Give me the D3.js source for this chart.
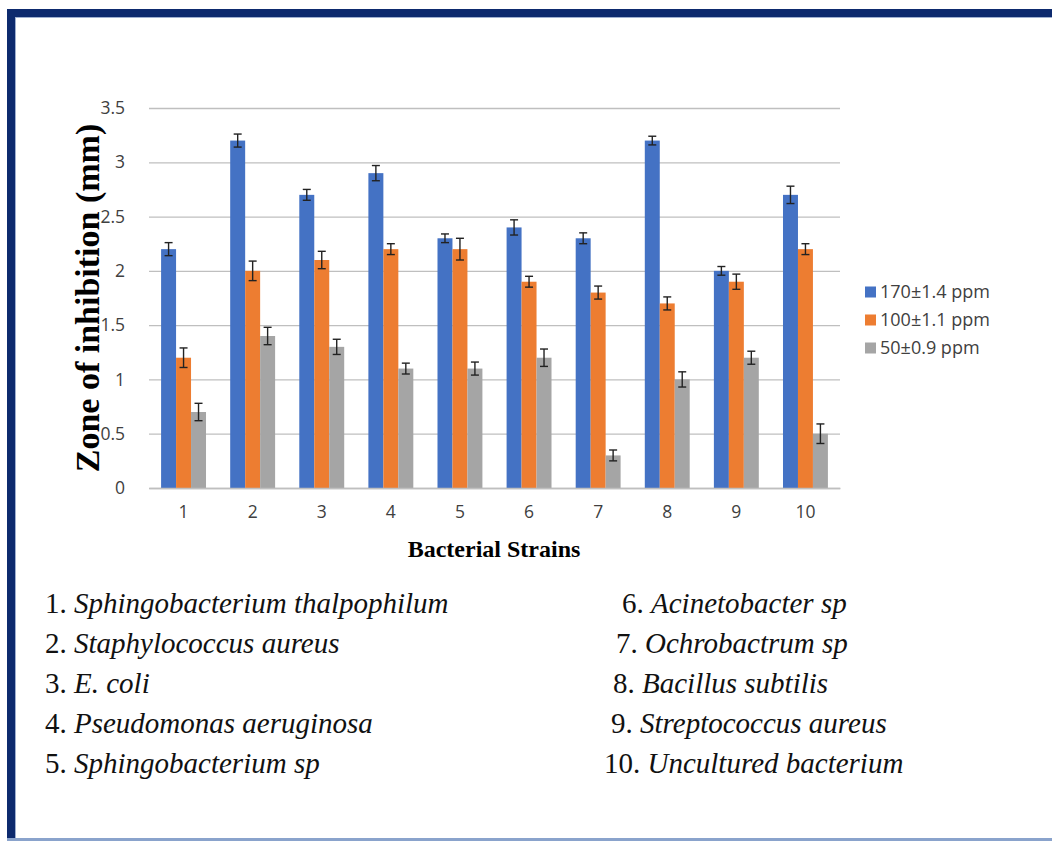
<!DOCTYPE html>
<html>
<head>
<meta charset="utf-8">
<script src="https://cdn.jsdelivr.net/npm/d3@7"></script>
<style>
  html, body { margin: 0; padding: 0; background: #fff; }
  svg { display: block; }
</style>
</head>
<body>
<script>
// ---------- data ----------
const categories = ["1","2","3","4","5","6","7","8","9","10"];
const seriesNames = ["170±1.4 ppm", "100±1.1 ppm", "50±0.9 ppm"];
const values170 = [2.2, 3.2, 2.7, 2.9, 2.3, 2.4, 2.3, 3.2, 2.0, 2.7];
const values100 = [1.2, 2.0, 2.1, 2.2, 2.2, 1.9, 1.8, 1.7, 1.9, 2.2];
const values50  = [0.7, 1.4, 1.3, 1.1, 1.1, 1.2, 0.3, 1.0, 1.2, 0.5];
const errors170 = [0.06, 0.06, 0.05, 0.07, 0.04, 0.07, 0.05, 0.04, 0.04, 0.08];
const errors100 = [0.09, 0.09, 0.08, 0.05, 0.10, 0.05, 0.06, 0.06, 0.07, 0.05];
const errors50  = [0.08, 0.08, 0.07, 0.05, 0.06, 0.08, 0.05, 0.07, 0.06, 0.09];
const yTicks = [0, 0.5, 1, 1.5, 2, 2.5, 3, 3.5];
const strainNames = [
  "Sphingobacterium thalpophilum", "Staphylococcus aureus", "E. coli",
  "Pseudomonas aeruginosa", "Sphingobacterium sp", "Acinetobacter sp",
  "Ochrobactrum sp", "Bacillus subtilis", "Streptococcus aureus",
  "Uncultured bacterium"
];
const yTitle = "Zone of inhibition (mm)";
const xTitle = "Bacterial Strains";

const seriesValues = [values170, values100, values50];
const seriesErrors = [errors170, errors100, errors50];
const colors = ["#4472C4", "#ED7D31", "#A5A5A5"];

// ---------- layout ----------
const W = 1052, H = 841;
const svg = d3.select("body").append("svg").attr("width", W).attr("height", H);

// frame
svg.append("rect").attr("x", 0).attr("y", 0).attr("width", W).attr("height", H).attr("fill", "#fff");
svg.append("rect").attr("x", 7).attr("y", 9).attr("width", W - 7).attr("height", 8).attr("fill", "#0d2a6e");
svg.append("rect").attr("x", 7).attr("y", 9).attr("width", 8).attr("height", H - 9).attr("fill", "#0d2a6e");
svg.append("rect").attr("x", 15).attr("y", 17).attr("width", W - 15).attr("height", 1).attr("fill", "#9fb0d0");
svg.append("rect").attr("x", 15).attr("y", 17).attr("width", 1).attr("height", H - 17).attr("fill", "#9fb0d0");
svg.append("rect").attr("x", 7).attr("y", 838).attr("width", W - 7).attr("height", 3).attr("fill", "#8aa3cc");

const plot = { left: 149, right: 840, top: 108, bottom: 488 };

const x0 = d3.scaleBand().domain(categories).range([plot.left, plot.right]).paddingInner(0.35).paddingOuter(0.175);
const x1 = d3.scaleBand().domain(d3.range(3)).range([0, x0.bandwidth()]);
const y = d3.scaleLinear().domain([0, 3.5]).range([plot.bottom, plot.top]);

// gridlines
const grid = svg.append("g")
  .attr("transform", `translate(${plot.left},0)`)
  .call(d3.axisLeft(y).tickValues(yTicks).tickSize(-(plot.right - plot.left)).tickFormat(""));
grid.select(".domain").remove();
grid.selectAll("line").attr("stroke", "#bfbfbf").attr("stroke-width", 1.3);

// y tick labels
const yAxis = svg.append("g")
  .attr("transform", `translate(${plot.left - 21},0)`)
  .call(d3.axisLeft(y).tickValues(yTicks).tickSize(0).tickFormat(d => d3.format("")(d)));
yAxis.select(".domain").remove();
yAxis.selectAll("text").attr("font-family", "'Open Sans', sans-serif").attr("font-size", 17.5).attr("fill", "#404040");

// bars
const groups = svg.append("g").selectAll("g").data(categories).join("g")
  .attr("transform", d => `translate(${x0(d)},0)`);

groups.selectAll("rect")
  .data((d, i) => seriesValues.map((s, k) => ({ k, v: s[i] })))
  .join("rect")
  .attr("x", d => x1(d.k))
  .attr("width", x1.bandwidth())
  .attr("y", d => y(d.v))
  .attr("height", d => y(0) - y(d.v))
  .attr("fill", d => colors[d.k]);

// error bars
const eb = groups.selectAll("g.err")
  .data((d, i) => seriesValues.map((s, k) => ({ k, v: s[i], e: seriesErrors[k][i] })))
  .join("g").attr("class", "err")
  .attr("stroke", "#222").attr("stroke-width", 1.4);
const capW = 4;
eb.append("line")
  .attr("x1", d => x1(d.k) + x1.bandwidth() / 2).attr("x2", d => x1(d.k) + x1.bandwidth() / 2)
  .attr("y1", d => y(d.v + d.e)).attr("y2", d => y(d.v - d.e));
eb.append("line")
  .attr("x1", d => x1(d.k) + x1.bandwidth() / 2 - capW).attr("x2", d => x1(d.k) + x1.bandwidth() / 2 + capW)
  .attr("y1", d => y(d.v + d.e)).attr("y2", d => y(d.v + d.e));
eb.append("line")
  .attr("x1", d => x1(d.k) + x1.bandwidth() / 2 - capW).attr("x2", d => x1(d.k) + x1.bandwidth() / 2 + capW)
  .attr("y1", d => y(d.v - d.e)).attr("y2", d => y(d.v - d.e));

// x axis
const xAxis = svg.append("g")
  .attr("transform", `translate(0,${plot.bottom})`)
  .call(d3.axisBottom(x0).tickSize(0).tickPadding(18));
xAxis.select(".domain").attr("stroke", "#bfbfbf").attr("stroke-width", 1.3);
xAxis.selectAll("text").attr("font-family", "'Open Sans', sans-serif").attr("font-size", 17.5).attr("fill", "#404040");

// axis titles
svg.append("text")
  .attr("x", 494).attr("y", 557)
  .attr("text-anchor", "middle")
  .attr("font-family", "'Liberation Serif', 'Times New Roman', serif")
  .attr("font-weight", "bold").attr("font-size", 24).attr("fill", "#000")
  .text(xTitle);
svg.append("text")
  .attr("transform", "translate(99,298) rotate(-90)")
  .attr("text-anchor", "middle")
  .attr("font-family", "'Liberation Serif', 'Times New Roman', serif")
  .attr("font-weight", "bold").attr("font-size", 34).attr("fill", "#000")
  .text(yTitle);

// legend
const legend = svg.append("g").attr("transform", "translate(865,292)");
const li = legend.selectAll("g").data(seriesNames).join("g")
  .attr("transform", (d, i) => `translate(0,${i * 28})`);
li.append("rect").attr("x", 0).attr("y", -5.5).attr("width", 11).attr("height", 11).attr("fill", (d, i) => colors[i]);
li.append("text").attr("x", 15).attr("y", 0).attr("dy", "0.35em")
  .attr("font-family", "'Open Sans', sans-serif").attr("font-size", 18).attr("fill", "#404040")
  .text(d => d);

// strain list
const listFont = "'Liberation Serif', 'Times New Roman', serif";
const rowY = d3.scalePoint().domain(d3.range(5)).range([613, 773]);
const rightX = [622, 616, 613, 611, 604];
const list = svg.append("g");
strainNames.forEach((name, i) => {
  const col = i < 5 ? 0 : 1;
  const r = i % 5;
  const t = list.append("text")
    .attr("x", col === 0 ? 45 : rightX[r])
    .attr("y", rowY(r))
    .attr("font-family", listFont).attr("font-size", 29).attr("fill", "#111");
  t.append("tspan").text(categories[i] + ". ");
  t.append("tspan").attr("font-style", "italic").text(name);
});
</script>
</body>
</html>
